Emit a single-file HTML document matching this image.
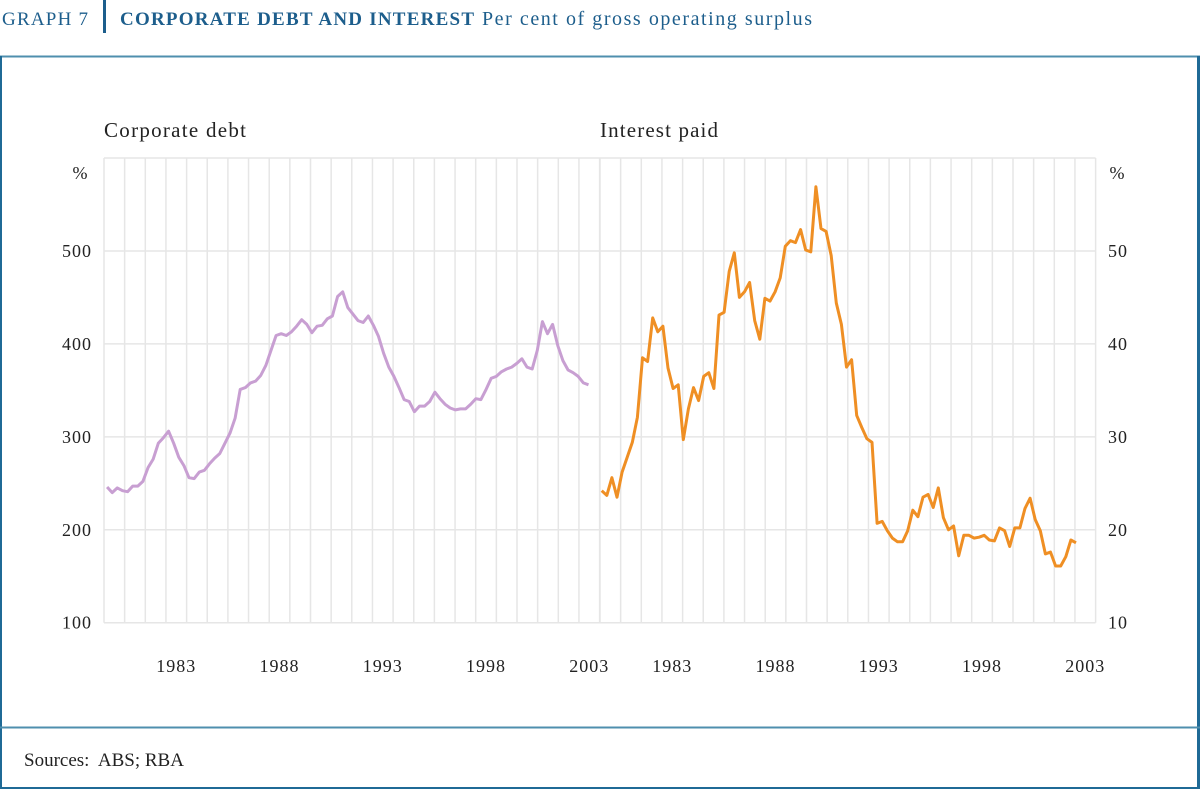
<!DOCTYPE html>
<html><head><meta charset="utf-8"><style>
html,body{margin:0;padding:0;background:#fff;}
svg{display:block;font-family:"Liberation Serif",serif;}
</style></head><body>
<svg id="chart" width="1200" height="789" viewBox="0 0 1200 789" xmlns="http://www.w3.org/2000/svg">
  <text x="2" y="25" font-size="19" fill="#1d5e8c" textLength="86">GRAPH 7</text>
  <rect x="103" y="0" width="3" height="33" fill="#1d5e8c"/>
  <text x="120" y="25" font-size="19" font-weight="bold" fill="#1d5e8c" textLength="354">CORPORATE DEBT AND INTEREST</text>
  <text x="482" y="25" font-size="20" fill="#1d5e8c" textLength="330">Per cent of gross operating surplus</text>
  <line x1="0" y1="56.5" x2="1200" y2="56.5" stroke="#4f8fae" stroke-width="2"/>
  <line x1="1" y1="56" x2="1" y2="789" stroke="#1f6a96" stroke-width="2"/>
  <line x1="1198.5" y1="56" x2="1198.5" y2="789" stroke="#1f6a96" stroke-width="3"/>
  <line x1="0" y1="727.5" x2="1200" y2="727.5" stroke="#4f8fae" stroke-width="2"/>
  <line x1="0" y1="788" x2="1200" y2="788" stroke="#1f6a96" stroke-width="2"/>
  <text x="24" y="766" font-size="19" fill="#222" xml:space="preserve">Sources:  ABS; RBA</text>
  <text x="104" y="137" font-size="21" fill="#222" textLength="142">Corporate debt</text>
  <text x="600" y="137" font-size="21" fill="#222" textLength="118">Interest paid</text>
  <text x="80" y="179" font-size="18" fill="#222" text-anchor="middle">%</text>
  <text x="1117" y="179" font-size="18" fill="#222" text-anchor="middle">%</text>
  <g id="grid"></g>
  <g id="labels"></g>
  <g id="series"></g>
</svg>
<script>
const years = [1983, 1988, 1993, 1998, 2003];
const leftTicks = [100, 200, 300, 400, 500];
const rightTicks = [10, 20, 30, 40, 50];
const debtStart = 1980.15;
const debt = [246,240,245,242,241,247,247,252,267,276,293,299,306,293,278,269,256,255,262,264,271,277,282,293,304,320,351,353,358,360,366,377,393,409,411,409,413,419,426,421,412,419,420,427,430,451,456,439,432,425,423,430,420,408,390,375,365,353,340,338,327,333,333,338,348,341,335,331,329,330,330,335,341,340,351,363,365,370,373,375,379,384,375,373,393,424,411,421,398,382,372,369,365,358,356];
const interestStart = 1980.08;
const interest = [24.2,23.7,25.6,23.5,26.2,27.8,29.4,32.1,38.5,38.1,42.8,41.3,41.9,37.4,35.2,35.6,29.7,33.0,35.3,33.9,36.5,36.9,35.2,43.1,43.4,47.8,49.8,45.0,45.6,46.6,42.5,40.5,44.9,44.6,45.6,47.1,50.5,51.1,50.9,52.3,50.1,49.9,56.9,52.4,52.1,49.5,44.4,42.1,37.5,38.3,32.3,31.0,29.8,29.4,20.7,20.9,19.9,19.1,18.7,18.7,19.9,22.1,21.4,23.5,23.8,22.4,24.5,21.3,20.0,20.4,17.2,19.4,19.4,19.1,19.2,19.4,18.9,18.8,20.2,19.9,18.2,20.2,20.2,22.3,23.4,21.1,19.9,17.4,17.6,16.1,16.1,17.1,18.9,18.6];

const NS = "http://www.w3.org/2000/svg";
const TOP = 158, BOT = 622.7, YW = 20.65;
const LX0 = 104, RX0 = 600;
const DSTEP = 0.248, ISTEP = 0.247;
function xL(t){ return LX0 + (t - 1980) * YW; }
function xR(t){ return RX0 + (t - 1980) * YW; }
function yL(v){ return BOT - (v - 100) * (BOT - TOP) / 500; }
function yR(v){ return BOT - (v - 10) * (BOT - TOP) / 50; }
function mk(tag, attrs, parent){ const e = document.createElementNS(NS, tag); for (const k in attrs) e.setAttribute(k, attrs[k]); parent.appendChild(e); return e; }

const grid = document.getElementById('grid');
const labels = document.getElementById('labels');
const series = document.getElementById('series');
const gc = '#e6e6e6';
for (let i = 0; i <= 24; i++) {
  const a = mk('line', {x1: xL(1980+i), x2: xL(1980+i), y1: TOP, y2: BOT, stroke: gc, 'stroke-width': 1.5}, grid);
  
  
  const b = mk('line', {x1: xR(1980+i), x2: xR(1980+i), y1: TOP, y2: BOT, stroke: gc, 'stroke-width': 1.5}, grid);
  
  
}
for (let v = 100; v <= 600; v += 100) {
  const h = mk('line', {x1: LX0, x2: xR(2004), y1: yL(v), y2: yL(v), stroke: gc, 'stroke-width': 1.5}, grid);
  
  
}
leftTicks.forEach(v => {
  const t = mk('text', {x: 92, y: yL(v) + 6, 'font-size': 18, fill: '#222', 'text-anchor': 'end', 'letter-spacing': 1}, labels);
  t.textContent = v;
  
  
});
rightTicks.forEach(v => {
  const t = mk('text', {x: 1108, y: yR(v) + 6, 'font-size': 18, fill: '#222', 'letter-spacing': 1}, labels);
  t.textContent = v;
  
  
});
years.forEach(yr => {
  const a = mk('text', {x: xL(yr + 0.5), y: 672, 'font-size': 18, fill: '#222', 'text-anchor': 'middle', 'letter-spacing': 1}, labels);
  a.textContent = yr;
  
  
  const b = mk('text', {x: xR(yr + 0.5), y: 672, 'font-size': 18, fill: '#222', 'text-anchor': 'middle', 'letter-spacing': 1}, labels);
  b.textContent = yr;
  
  
});
const dPts = debt.map((v, i) => xL(debtStart + i * DSTEP).toFixed(1) + ',' + yL(v).toFixed(1)).join(' ');
const dl = mk('polyline', {points: dPts, fill: 'none', stroke: '#c89fd2', 'stroke-width': 3, 'stroke-linejoin': 'round'}, series);


const iPts = interest.map((v, i) => xR(interestStart + i * ISTEP).toFixed(1) + ',' + yR(v).toFixed(1)).join(' ');
const il = mk('polyline', {points: iPts, fill: 'none', stroke: '#ef8f24', 'stroke-width': 3, 'stroke-linejoin': 'round'}, series);


</script>
</body></html>
